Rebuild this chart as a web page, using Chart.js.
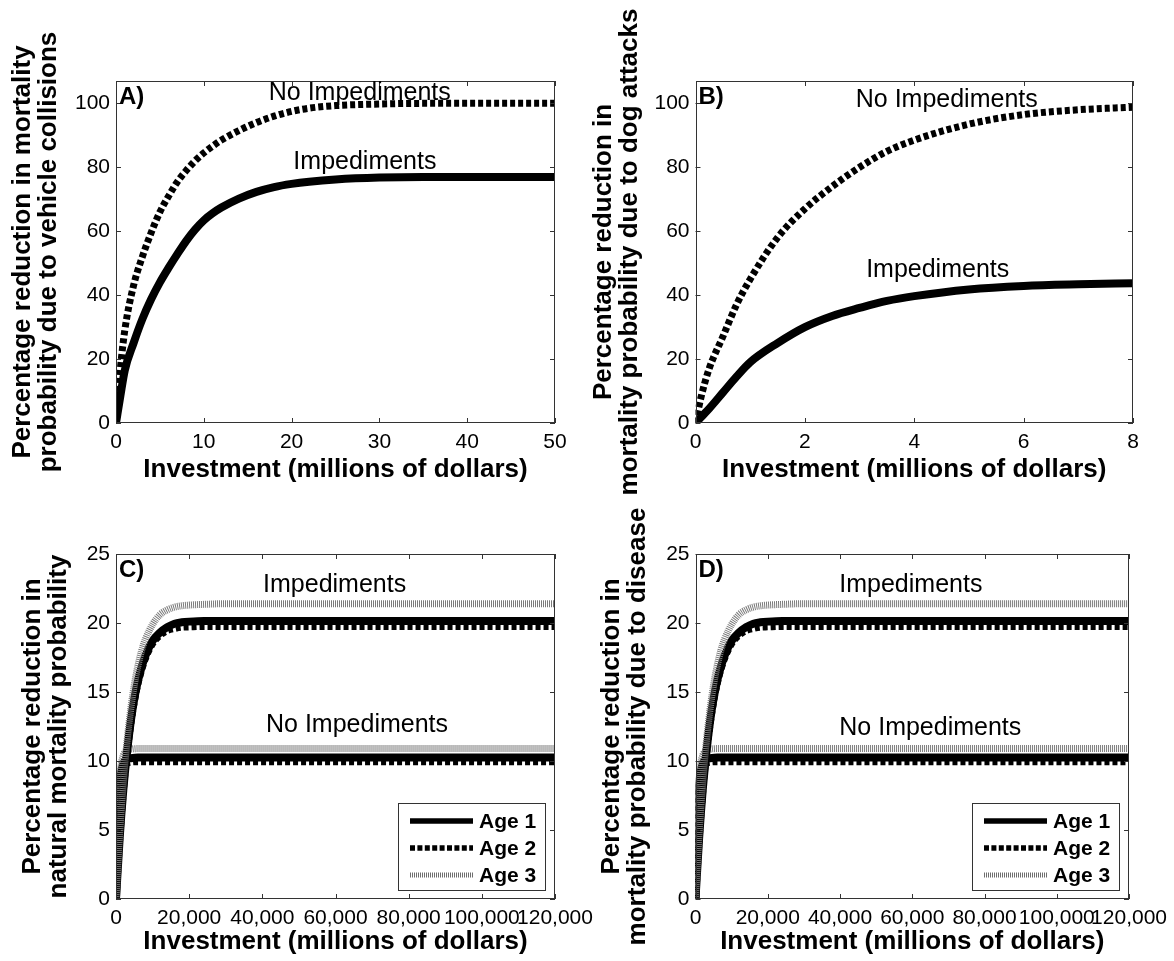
<!DOCTYPE html>
<html>
<head>
<meta charset="utf-8">
<title>Investment and mortality reduction</title>
<script src="https://cdn.jsdelivr.net/npm/chart.js@4.4.1/dist/chart.umd.min.js"></script>
<style>
  html, body { margin: 0; padding: 0; background: #fff; }
  #wrap { position: relative; width: 1174px; height: 961px; overflow: hidden; background: #fff; }
  #wrap canvas { position: absolute; left: 0; }
  #pA, #pB { top: 0; }
  #pC, #pD { top: 470px; }
</style>
</head>
<body>
<div id="wrap">
  <canvas id="pA" width="1174" height="500"></canvas>
  <canvas id="pB" width="1174" height="500"></canvas>
  <canvas id="pC" width="1174" height="491"></canvas>
  <canvas id="pD" width="1174" height="491"></canvas>
</div>
<script>
// ---- Panel A: vehicle collisions (investment in millions of dollars) ----
const xA      = [0, 0.5, 1, 2, 3, 4, 5, 6, 7, 8, 9, 10, 11, 12, 14, 16, 18, 20, 22, 25, 30, 35, 40, 45, 50];
const noImpA  = [0, 17, 29, 43, 52, 59.5, 66, 71, 75.5, 79, 82, 84.5, 86.6, 88.5, 91.5, 94, 96, 97.5, 98.5, 99.3, 99.8, 100, 100, 100, 100];
const impA    = [0, 8.5, 16.5, 25, 32.5, 38.7, 44, 48.6, 52.9, 57, 60.5, 63.4, 65.6, 67.4, 70.2, 72.3, 73.8, 74.8, 75.5, 76.2, 76.8, 77, 77, 77, 77];
const xTicksA = [0, 10, 20, 30, 40, 50];
const yTicksA = [0, 20, 40, 60, 80, 100];

// ---- Panel B: dog attacks ----
const xB      = [0, 0.1, 0.25, 0.5, 0.75, 1, 1.5, 2, 2.5, 3, 3.5, 4, 5, 6, 7, 8];
const noImpB  = [0, 8, 17, 27, 37, 45, 58, 67, 74, 80, 85, 88.5, 93.5, 96.5, 98, 98.8];
const impB    = [0, 1.8, 4.5, 9.5, 14.5, 19, 25, 30, 33.5, 36, 38.2, 39.7, 41.8, 42.9, 43.4, 43.7];
const xTicksB = [0, 2, 4, 6, 8];
const yTicksB = [0, 20, 40, 60, 80, 100];

// ---- Panel C: natural mortality, three age classes ----
const xImpC    = [0, 1000, 2000, 3000, 4000, 5000, 6000, 7000, 8000, 10000, 12000, 14000, 16000, 18000, 20000, 24000, 30000, 40000, 60000, 80000, 100000, 120000];
const impC1    = [0, 4.4, 7.9, 10.6, 12.8, 14.5, 15.8, 16.8, 17.6, 18.7, 19.3, 19.7, 19.95, 20.05, 20.1, 20.15, 20.15, 20.15, 20.15, 20.15, 20.15, 20.15];
const impC2    = [0, 4.3, 7.8, 10.5, 12.6, 14.3, 15.6, 16.6, 17.4, 18.5, 19.1, 19.45, 19.6, 19.7, 19.72, 19.75, 19.75, 19.75, 19.75, 19.75, 19.75, 19.75];
const impC3    = [0, 4.7, 8.5, 11.4, 13.7, 15.5, 16.9, 18.0, 18.8, 19.9, 20.6, 20.95, 21.15, 21.25, 21.3, 21.35, 21.4, 21.4, 21.4, 21.4, 21.4, 21.4];
const xNoImpC  = [0, 250, 500, 750, 1000, 1500, 2000, 2500, 3000, 4000, 6000, 10000, 20000, 40000, 60000, 80000, 100000, 120000];
const noImpC1  = [0, 3.5, 5.8, 7.3, 8.3, 9.3, 9.8, 10.05, 10.15, 10.2, 10.25, 10.25, 10.25, 10.25, 10.25, 10.25, 10.25, 10.25];
const noImpC2  = [0, 3.4, 5.6, 7.1, 8.1, 9.05, 9.5, 9.75, 9.85, 9.92, 9.95, 9.95, 9.95, 9.95, 9.95, 9.95, 9.95, 9.95];
const noImpC3  = [0, 3.7, 6.2, 7.8, 8.8, 9.9, 10.4, 10.65, 10.75, 10.85, 10.9, 10.9, 10.9, 10.9, 10.9, 10.9, 10.9, 10.9];
const xTicksC  = [0, 20000, 40000, 60000, 80000, 100000, 120000];
const yTicksC  = [0, 5, 10, 15, 20, 25];

// ---- Panel D: disease, three age classes ----
const xImpD    = [0, 1000, 2000, 3000, 4000, 5000, 6000, 7000, 8000, 10000, 12000, 14000, 16000, 18000, 20000, 24000, 30000, 40000, 60000, 80000, 100000, 120000];
const impD1    = [0, 4.4, 7.9, 10.6, 12.8, 14.5, 15.8, 16.8, 17.6, 18.7, 19.3, 19.7, 19.95, 20.05, 20.1, 20.15, 20.15, 20.15, 20.15, 20.15, 20.15, 20.15];
const impD2    = [0, 4.3, 7.8, 10.5, 12.6, 14.3, 15.6, 16.6, 17.4, 18.5, 19.1, 19.45, 19.6, 19.7, 19.72, 19.75, 19.75, 19.75, 19.75, 19.75, 19.75, 19.75];
const impD3    = [0, 4.7, 8.5, 11.4, 13.7, 15.5, 16.9, 18.0, 18.8, 19.9, 20.6, 20.95, 21.15, 21.25, 21.3, 21.35, 21.4, 21.4, 21.4, 21.4, 21.4, 21.4];
const xNoImpD  = [0, 250, 500, 750, 1000, 1500, 2000, 2500, 3000, 4000, 6000, 10000, 20000, 40000, 60000, 80000, 100000, 120000];
const noImpD1  = [0, 3.5, 5.8, 7.3, 8.3, 9.3, 9.8, 10.05, 10.15, 10.2, 10.25, 10.25, 10.25, 10.25, 10.25, 10.25, 10.25, 10.25];
const noImpD2  = [0, 3.4, 5.6, 7.1, 8.1, 9.05, 9.5, 9.75, 9.85, 9.92, 9.95, 9.95, 9.95, 9.95, 9.95, 9.95, 9.95, 9.95];
const noImpD3  = [0, 3.7, 6.2, 7.8, 8.8, 9.9, 10.4, 10.65, 10.75, 10.85, 10.9, 10.9, 10.9, 10.9, 10.9, 10.9, 10.9, 10.9];
const xTicksD  = [0, 20000, 40000, 60000, 80000, 100000, 120000];
const yTicksD  = [0, 5, 10, 15, 20, 25];

const ageLabels = ['Age 1', 'Age 2', 'Age 3'];

// ---------------------------------------------------------------------
const FAMILY = "'Liberation Sans', Arial, Helvetica, sans-serif";

const STYLES = {
  solid:  { borderColor: '#000',    borderWidth: 8, borderDash: [] },
  dashed: { borderColor: '#000',    borderWidth: 7, borderDash: [5, 3] },
  hatch:  { borderColor: '#7a7a7a', borderWidth: 7, borderDash: [1, 1] }
};
const LEGEND_STYLES = [
  { color: '#000',    width: 5.5, dash: [] },
  { color: '#000',    width: 5.5, dash: [5, 2.4] },
  { color: '#6e6e6e', width: 5,   dash: [1, 1] }
];

function series(xs, ys, styleName, order) {
  const s = STYLES[styleName];
  return {
    data: xs.map((x, i) => ({ x: x, y: ys[i] })),
    borderColor: s.borderColor,
    borderWidth: s.borderWidth,
    borderDash: s.borderDash,
    borderCapStyle: 'butt',
    borderJoinStyle: 'round',
    cubicInterpolationMode: 'monotone',
    pointRadius: 0,
    pointHoverRadius: 0,
    fill: false,
    clip: 0,
    order: order
  };
}

// Box, inward ticks on every side, panel letter, curve labels and legend
const panelDecor = {
  id: 'panelDecor',
  afterDatasetsDraw(chart, args, opts) {
    const { ctx, chartArea: a, scales: { x, y } } = chart;
    ctx.save();
    ctx.strokeStyle = '#333';
    ctx.lineWidth = 1;
    ctx.setLineDash([]);
    ctx.beginPath();
    const L = 5;
    x.ticks.forEach(t => {
      const px = Math.round(x.getPixelForValue(t.value)) + 0.5;
      ctx.moveTo(px, a.bottom); ctx.lineTo(px, a.bottom - L);
      ctx.moveTo(px, a.top);    ctx.lineTo(px, a.top + L);
    });
    y.ticks.forEach(t => {
      const py = Math.round(y.getPixelForValue(t.value)) + 0.5;
      ctx.moveTo(a.left, py);  ctx.lineTo(a.left + L, py);
      ctx.moveTo(a.right, py); ctx.lineTo(a.right - L, py);
    });
    ctx.stroke();
    ctx.strokeRect(Math.round(a.left) + 0.5, Math.round(a.top) + 0.5,
                   Math.round(a.right) - Math.round(a.left) - 1, Math.round(a.bottom) - Math.round(a.top) - 1);

    // panel letter
    ctx.fillStyle = '#000';
    ctx.textBaseline = 'middle';
    ctx.textAlign = 'left';
    ctx.font = 'bold 24px ' + FAMILY;
    ctx.fillText(opts.letter, a.left + 3, a.top + 16);

    // curve labels
    ctx.font = '25px ' + FAMILY;
    (opts.notes || []).forEach(n => {
      ctx.fillText(n.text, x.getPixelForValue(n.x), y.getPixelForValue(n.y));
    });

    // legend
    if (opts.legend) {
      const w = 147, h = 87;
      const lx = Math.round(a.right - 10 - w), ly = Math.round(a.bottom - 9 - h);
      ctx.fillStyle = '#fff';
      ctx.fillRect(lx, ly, w, h);
      ctx.strokeStyle = '#333';
      ctx.lineWidth = 1;
      ctx.strokeRect(lx + 0.5, ly + 0.5, w, h);
      ctx.font = 'bold 21px ' + FAMILY;
      opts.legend.forEach((label, i) => {
        const st = LEGEND_STYLES[i];
        const cy = ly + 18 + i * 27;
        ctx.beginPath();
        ctx.strokeStyle = st.color;
        ctx.lineWidth = st.width;
        ctx.lineCap = 'butt';
        ctx.setLineDash(st.dash);
        ctx.moveTo(lx + 12, cy);
        ctx.lineTo(lx + 75, cy);
        ctx.stroke();
        ctx.setLineDash([]);
        ctx.fillStyle = '#000';
        ctx.fillText(label, lx + 81, cy + 1);
      });
    }
    ctx.restore();
  }
};

const commas = v => Number(v).toLocaleString('en-US');
const plain = v => String(v);

function makeChart(id, cfg) {
  const tickFont = { family: FAMILY, size: 21 };
  const titleFont = { family: FAMILY, size: 26, weight: 'bold', lineHeight: 1.0 };
  return new Chart(document.getElementById(id), {
    type: 'line',
    data: { datasets: cfg.datasets },
    plugins: [panelDecor],
    options: {
      responsive: false,
      animation: false,
      devicePixelRatio: 1,
      events: [],
      layout: { autoPadding: false, padding: cfg.padding },
      scales: {
        x: {
          type: 'linear',
          min: cfg.xMin, max: cfg.xMax,
          afterBuildTicks: s => { s.ticks = cfg.xTicks.map(v => ({ value: v })); },
          afterFit: s => { s.height = cfg.xHeight; },
          grid: { display: false, drawTicks: false },
          border: { display: false },
          ticks: { autoSkip: false, maxRotation: 0, minRotation: 0, padding: 7, color: '#000', font: tickFont, callback: cfg.xFmt },
          title: { display: true, text: 'Investment (millions of dollars)', color: '#000', font: titleFont, padding: { top: 0, bottom: cfg.xTitlePad } }
        },
        y: {
          type: 'linear',
          min: cfg.yMin, max: cfg.yMax,
          afterBuildTicks: s => { s.ticks = cfg.yTicks.map(v => ({ value: v })); },
          afterFit: s => { s.width = cfg.yWidth; },
          grid: { display: false, drawTicks: false },
          border: { display: false },
          ticks: { padding: 6, color: '#000', font: tickFont, callback: plain },
          title: { display: true, text: cfg.yTitle, color: '#000', font: titleFont, padding: { top: cfg.yTitlePad, bottom: 0 } }
        }
      },
      plugins: {
        legend: { display: false },
        tooltip: { enabled: false },
        panelDecor: { letter: cfg.letter, notes: cfg.notes, legend: cfg.legend }
      }
    }
  });
}

makeChart('pA', {
  datasets: [series(xA, noImpA, 'dashed', 2), series(xA, impA, 'solid', 1)],
  padding: { left: 0, right: 619, top: 81, bottom: 0 },
  xMin: 0, xMax: 50, xTicks: xTicksA, xFmt: plain, xHeight: 77, xTitlePad: 17,
  yMin: 0, yMax: 107, yTicks: yTicksA, yWidth: 116, yTitlePad: 10,
  yTitle: ['Percentage reduction in mortality', 'probability due to vehicle collisions'],
  letter: 'A)',
  notes: [{ text: 'No Impediments', x: 17.4, y: 103.3 }, { text: 'Impediments', x: 20.2, y: 81.7 }]
});

makeChart('pB', {
  datasets: [series(xB, noImpB, 'dashed', 2), series(xB, impB, 'solid', 1)],
  padding: { left: 580, right: 41, top: 81, bottom: 0 },
  xMin: 0, xMax: 8, xTicks: xTicksB, xFmt: plain, xHeight: 77, xTitlePad: 17,
  yMin: 0, yMax: 107, yTicks: yTicksB, yWidth: 115.5, yTitlePad: 11,
  yTitle: ['Percentage reduction in', 'mortality probability due to dog attacks'],
  letter: 'B)',
  notes: [{ text: 'No Impediments', x: 2.93, y: 101.1 }, { text: 'Impediments', x: 3.12, y: 47.9 }]
});

makeChart('pC', {
  datasets: [
    series(xImpC, impC2, 'dashed', 3), series(xImpC, impC1, 'solid', 2), series(xImpC, impC3, 'hatch', 1),
    series(xNoImpC, noImpC2, 'dashed', 6), series(xNoImpC, noImpC1, 'solid', 5), series(xNoImpC, noImpC3, 'hatch', 4)
  ],
  padding: { left: 0, right: 619, top: 84, bottom: 0 },
  xMin: 0, xMax: 120000, xTicks: xTicksC, xFmt: commas, xHeight: 62, xTitlePad: 6,
  yMin: 0, yMax: 25, yTicks: yTicksC, yWidth: 116, yTitlePad: 20,
  yTitle: ['Percentage reduction in', 'natural mortality probability'],
  letter: 'C)',
  notes: [{ text: 'Impediments', x: 40200, y: 22.75 }, { text: 'No Impediments', x: 41000, y: 12.6 }],
  legend: ageLabels
});

makeChart('pD', {
  datasets: [
    series(xImpD, impD2, 'dashed', 3), series(xImpD, impD1, 'solid', 2), series(xImpD, impD3, 'hatch', 1),
    series(xNoImpD, noImpD2, 'dashed', 6), series(xNoImpD, noImpD1, 'solid', 5), series(xNoImpD, noImpD3, 'hatch', 4)
  ],
  padding: { left: 580, right: 41, top: 84, bottom: 0 },
  xMin: 0, xMax: 120000, xTicks: xTicksD, xFmt: commas, xHeight: 62, xTitlePad: 6,
  yMin: 0, yMax: 25, yTicks: yTicksD, yWidth: 115.5, yTitlePad: 19,
  yTitle: ['Percentage reduction in', 'mortality probability due to disease'],
  letter: 'D)',
  notes: [{ text: 'Impediments', x: 39800, y: 22.75 }, { text: 'No Impediments', x: 39800, y: 12.4 }],
  legend: ageLabels
});
</script>
</body>
</html>
